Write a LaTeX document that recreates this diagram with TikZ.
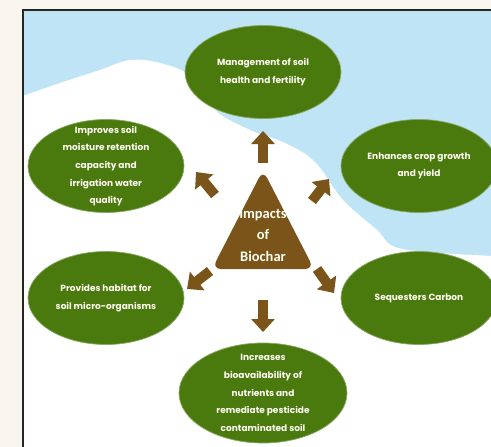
\documentclass[tikz,border=0pt]{standalone}
\usepackage{fontspec}
\setmainfont{Poppins}
\newfontfamily\hubfont{Carlito}
\usetikzlibrary{arrows.meta,shapes.geometric}

\definecolor{leaf}{RGB}{74,122,14}
\definecolor{bark}{RGB}{122,84,24}
\definecolor{sky}{RGB}{191,228,245}
\definecolor{paper}{RGB}{247,245,237}

\tikzset{
  blob/.style={ellipse, fill=leaf, draw=leaf!65!white, line width=0.7pt,
    minimum width=156, minimum height=93, inner sep=0pt},
  note/.style={text=white!95!yellow, align=center, inner sep=0pt,
    font=\bfseries\fontsize{9}{17.6}\selectfont},
  barrow/.style={bark, line width=10pt, -{Triangle[length=13pt,width=23pt]}}
}

\begin{document}
\begin{tikzpicture}[x=1pt,y=-1pt]
\useasboundingbox (0,0) rectangle (491,447);
\fill[paper] (0,0) rectangle (491,447);

% sky and cloud
\fill[sky] (23,10) rectangle (495,450);
\begin{scope}
\clip (23,10) rectangle (495,450);
\fill[white] plot[smooth, tension=0.6] coordinates {(20,97) (60,83) (100,70) (130,60)
  (160,63) (190,76) (215,110) (250,130) (285,143) (315,162) (343,200) (377,230)
  (395,247) (440,253) (495,256)} -- (495,450) -- (20,450) -- cycle;
\end{scope}
\draw[black!85, line width=1.2pt] (23,450) -- (23,10) -- (495,10);

% the six impacts
\node[blob] (mgmt) at (263,72) {};
\node[note] at (mgmt) {Management of soil\\health and fertility};
\node[blob] (moist) at (106,166) {};
\node[note] at (moist) {Improves soil\\moisture retention\\capacity and\\irrigation water\\quality};
\node[blob] (crop) at (419,166) {};
\node[note] at (crop) {Enhances crop growth\\and yield};
\node[blob] (habit) at (106,298) {};
\node[note] at (habit) {Provides habitat for\\soil micro-organisms};
\node[blob] (carb) at (419,298) {};
\node[note] at (carb) {Sequesters Carbon};
\node[blob, minimum width=168, minimum height=100] (nutr) at (263,393) {};
\node[note] at (nutr) {Increases\\bioavailability of\\nutrients and\\remediate pesticide\\contaminated soil};

% centre
\fill[bark, rounded corners=9pt] (263,170) -- (314,269) -- (212,269) -- cycle;
\node[text=white!95!yellow, align=center, font=\hubfont\bfseries\fontsize{14.5}{21.5}\selectfont]
  (bio) at (263,235) {Impacts\\of\\Biochar};

% arrows
\foreach \n/\s/\e in {up/{263,163}/{263,131}, dn/{263,300}/{263,332},
    ul/{215,195}/{196,172}, ur/{312,201}/{329,179},
    ll/{210,271}/{187,289}, lr/{317,269}/{334,293}}{
  \coordinate (\n s) at (\s);
  \coordinate (\n e) at (\e);
  \draw[barrow] (\n s) -- (\n e);
}
\end{tikzpicture}
\end{document}
